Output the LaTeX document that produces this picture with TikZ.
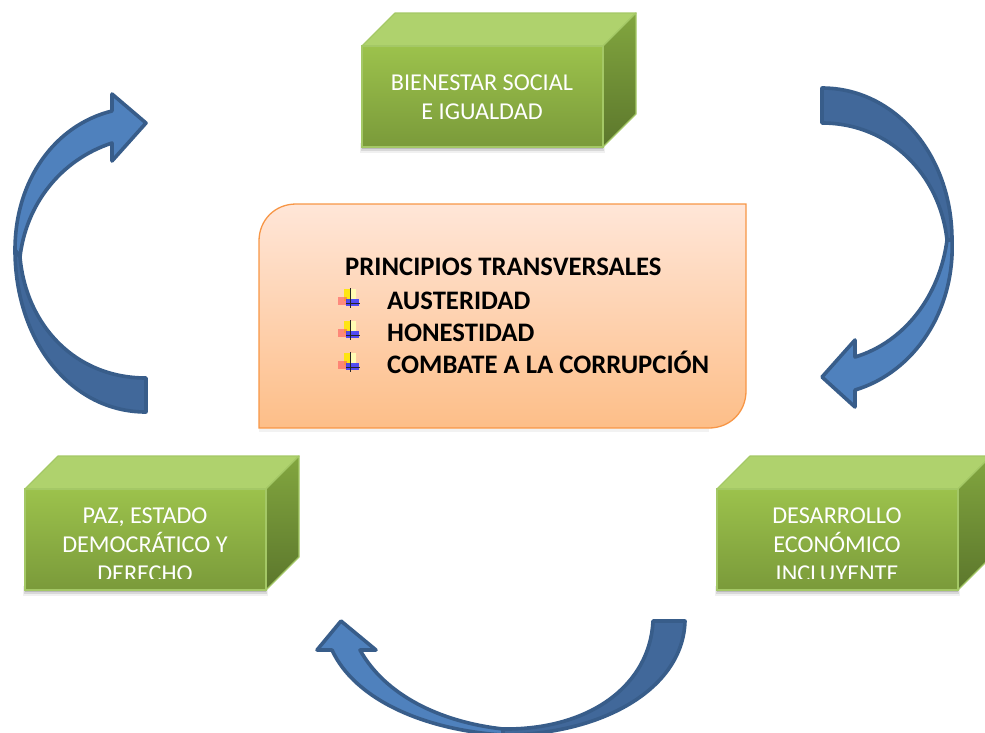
\documentclass[tikz,border=0pt]{standalone}
\usepackage{fontspec}
\setmainfont{Carlito}
\usetikzlibrary{shadings}
\definecolor{arrowline}{HTML}{385D8A}
\definecolor{arrowdark}{HTML}{41689A}
\definecolor{arrowlight}{HTML}{4F81BD}
\definecolor{frontT}{HTML}{9CC24C}
\definecolor{frontB}{HTML}{7A9A3A}
\definecolor{topC}{HTML}{AFD26D}
\definecolor{sideT}{HTML}{82A63F}
\definecolor{sideB}{HTML}{5C772C}
\definecolor{edge}{HTML}{A4C866}
\definecolor{peachT}{HTML}{FFE6D8}
\definecolor{peachB}{HTML}{FDBE88}
\definecolor{peachE}{HTML}{F79646}
\tikzset{
  boxtext/.style={text=white,font=\fontsize{24.2}{29}\selectfont,inner sep=0pt,anchor=base},
  listtext/.style={text=black,font=\fontsize{26.7}{31}\selectfont\bfseries,inner sep=0pt,anchor=base west},
  arrowpart/.style={draw=arrowline,line width=3.6pt,line join=round},
  frontface/.style={top color=frontT,bottom color=frontB,draw=edge,line width=1.2pt},
  topface/.style={fill=topC,draw=edge,line width=1.2pt,line join=round},
  sideface/.style={top color=sideT,bottom color=sideB,draw=edge,line width=1.2pt,line join=round},
}
\newcommand{\blockat}[3]{% x, y of front top-left; name
  \begin{scope}[shift={(#1,#2)}]
    \fill[black,opacity=.06] (-2,97) rectangle (243,107);
    \fill[black,opacity=.10] (-1,98) rectangle (242,105);
    \fill[black,opacity=.14] (0,100) rectangle (241,103);
    \path[topface] (0,0) -- (33,-33) -- (274,-33) -- (241,0) -- cycle;
    \path[sideface] (241,0) -- (274,-33) -- (274,68) -- (241,101) -- cycle;
    \path[frontface] (0,0) rectangle (241,101);
    \coordinate (#3) at (120.5,50.5);
  \end{scope}}
\newcommand{\bulletat}[2]{%
  \begin{scope}[shift={(#1,#2)}]
    \fill[yellow!90!orange,opacity=.9] (-5,-9) rectangle (1,3);
    \fill[yellow!30] (1,-9) rectangle (7,3);
    \fill[red!65,opacity=.6] (-11,-1) rectangle (-2,7);
    \fill[blue!80,opacity=.85] (-3,1) rectangle (10,8);
    \draw[black!85,line width=.8pt] (1,-10) -- (1,10) (-3,5) -- (11,5);
  \end{scope}}
\begin{document}
\begin{tikzpicture}[x=1pt,y=-1pt]
\useasboundingbox (0,0) rectangle (985,732);
\begin{scope}
\clip (0,0) rectangle (985,732);

% boxes
\blockat{362}{46}{topc}
\blockat{25}{489}{leftc}
\blockat{717}{489}{rightc}

% box texts
\node[boxtext] (t1) at (482,90) {BIENESTAR SOCIAL};
\node[boxtext] (t2) at (482,119) {E IGUALDAD};
\begin{scope}
\clip (25,489) rectangle (266,578);
\node[boxtext] (l1) at (145,523) {PAZ, ESTADO};
\node[boxtext] (l2) at (145,552) {DEMOCRÁTICO Y};
\node[boxtext] (l3) at (145,581) {DERECHO};
\end{scope}
\begin{scope}
\clip (717,489) rectangle (958,578);
\node[boxtext] (r1) at (837,523) {DESARROLLO};
\node[boxtext] (r2) at (837,552) {ECONÓMICO};
\node[boxtext] (r3) at (837,581) {INCLUYENTE};
\end{scope}

% central panel
\fill[black,opacity=.05] (259,429) rectangle (709,432);
\shade[top color=peachT,bottom color=peachB,draw=peachE,line width=1.3pt]
  (296,204) -- (746,204) -- (746,391)
  .. controls (746,412) and (730,428) .. (709,428)
  -- (259,428) -- (259,241)
  .. controls (259,220) and (275,204) .. (296,204) -- cycle;
\node[listtext] (title) at (345,275) {PRINCIPIOS TRANSVERSALES};
\node[listtext] (i1) at (387,309) {AUSTERIDAD};
\node[listtext] (i2) at (387,341) {HONESTIDAD};
\node[listtext] (i3) at (387,373) {COMBATE A LA CORRUPCIÓN};
\bulletat{349}{298}
\bulletat{349}{330}
\bulletat{349}{362}

% right arrow
\path[arrowpart,fill=arrowlight]
  (952,240) .. controls (955,310) and (915,372) .. (855,390)
  -- (855,407) -- (822,377) -- (855,340) -- (855,357)
  .. controls (905,342) and (940,295) .. (947,240) -- cycle;
\path[arrowpart,fill=arrowdark]
  (822,88) .. controls (895,88) and (952,155) .. (952,240)
  -- (947,240) .. controls (940,175) and (890,123) .. (822,123) -- cycle;

% left arrow
\path[arrowpart,fill=arrowlight]
  (15,250) .. controls (15,180) and (55,125) .. (112,111)
  -- (112,94) -- (146,123) -- (112,161) -- (112,143)
  .. controls (60,160) and (26,205) .. (20,257) -- cycle;
\path[arrowpart,fill=arrowdark]
  (146,412) .. controls (70,412) and (15,340) .. (15,250)
  -- (20,257) .. controls (26,325) and (75,378) .. (146,378) -- cycle;

% bottom arrow
\path[arrowpart,fill=arrowlight]
  (503,735) .. controls (425,730) and (355,700) .. (332,650)
  -- (317,650) -- (341,621) -- (376,650) -- (360,650)
  .. controls (385,695) and (440,722) .. (503,729) -- cycle;
\path[arrowpart,fill=arrowdark]
  (685,621) .. controls (683,690) and (600,735) .. (503,735)
  -- (503,729) .. controls (590,730) and (650,685) .. (653,621) -- cycle;
\end{scope}
\end{tikzpicture}
\end{document}
